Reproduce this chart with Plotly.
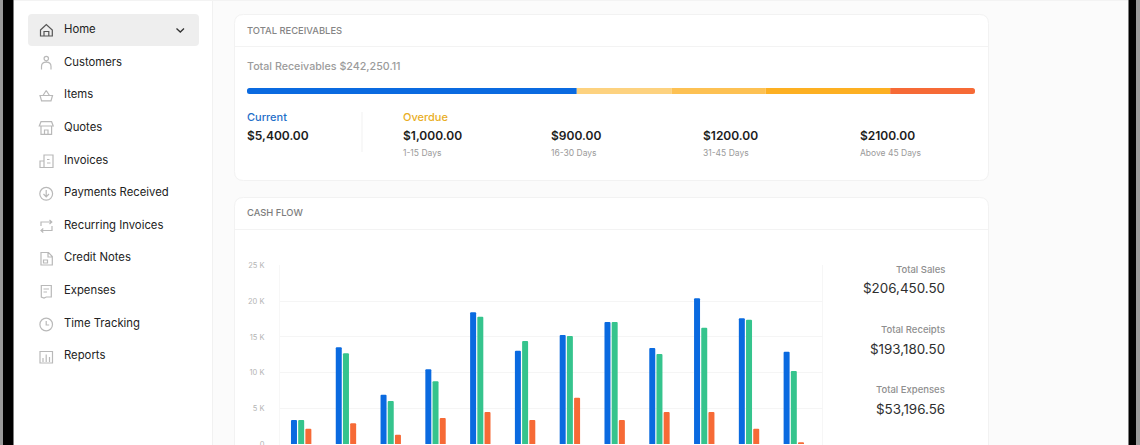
import re

import plotly.graph_objects as go

W, H = 1140, 445
FONT = "Inter"

# cash flow chart
groups = list(range(12))
sales = [3360, 13540, 6900, 10460, 18440, 13070, 15270, 17090, 13450, 20400, 17600, 12930]
receipts = [3360, 12700, 6020, 8780, 17830, 14430, 15130, 17090, 12600, 16290, 17410, 10220]
expenses = [2140, 2900, 1300, 3640, 4480, 3360, 6480, 3360, 4480, 4480, 2140, 240]
y_ticks = [0, 5000, 10000, 15000, 20000, 25000]
y_labels = ["0", "5 K", "10 K", "15 K", "20 K", "25 K"]

# receivables bar, share of the bar length in percent
segments = [45.3, 13.05, 12.9, 17.1, 11.65]
segment_colors = ["#0a6ae0", "#fdd27f", "#fdc153", "#fdb022", "#f66a36"]

menu = ["Home", "Customers", "Items", "Quotes", "Invoices", "Payments Received",
        "Recurring Invoices", "Credit Notes", "Expenses", "Time Tracking", "Reports"]
menu_y = [29, 62, 94, 127, 160, 192, 225, 257, 290, 323, 355]

amounts = ["$5,400.00", "$1,000.00", "$900.00", "$1200.00", "$2100.00"]
amount_x = [247, 403, 551, 703, 859.5]
ages = ["1-15 Days", "16-30 Days", "31-45 Days", "Above 45 Days"]

totals = [("Total Sales", 269.5, "$206,450.50", 287.5),
          ("Total Receipts", 329.5, "$193,180.50", 349),
          ("Total Expenses", 389, "$53,196.56", 408.5)]


def xp(x):
    return x / W


def yp(y):
    return 1 - y / H


def to_paper(d):
    # svg path in screen pixels -> paper coordinates
    out = []
    is_x = True
    for tok in re.findall(r"[MLCQZ]|-?\d+\.?\d*", d):
        if tok in "MLCQZ":
            out.append(tok)
            is_x = True
        else:
            out.append(f"{xp(float(tok)):.5f}" if is_x else f"{yp(float(tok)):.5f}")
            is_x = not is_x
    return " ".join(out)


def rrect(x0, y0, x1, y1, r):
    return (f"M {x0 + r} {y0} L {x1 - r} {y0} Q {x1} {y0} {x1} {y0 + r} L {x1} {y1 - r} "
            f"Q {x1} {y1} {x1 - r} {y1} L {x0 + r} {y1} Q {x0} {y1} {x0} {y1 - r} "
            f"L {x0} {y0 + r} Q {x0} {y0} {x0 + r} {y0} Z")


def circle(cx, cy, r):
    k = r * 0.5523
    return (f"M {cx - r} {cy} C {cx - r} {cy - k} {cx - k} {cy - r} {cx} {cy - r} "
            f"C {cx + k} {cy - r} {cx + r} {cy - k} {cx + r} {cy} "
            f"C {cx + r} {cy + k} {cx + k} {cy + r} {cx} {cy + r} "
            f"C {cx - k} {cy + r} {cx - r} {cy + k} {cx - r} {cy} Z")


shapes = []


def add_path(d, fill="rgba(0,0,0,0)", line=None, width=1.0, layer="below"):
    shapes.append(dict(type="path", path=to_paper(d), xref="paper", yref="paper", layer=layer,
                       fillcolor=fill, line=dict(color=line or "rgba(0,0,0,0)", width=width if line else 0)))


def add_rect(x0, y0, x1, y1, fill):
    add_path(f"M {x0} {y0} L {x1} {y0} L {x1} {y1} L {x0} {y1} Z", fill=fill)


texts = []


def add_text(x, y, text, size, color, anchor="left", weight=400):
    # annotations sit 2px inside their anchor, xshift takes that back
    texts.append(dict(x=xp(x), y=yp(y), xref="paper", yref="paper", text=text, showarrow=False,
                      xanchor=anchor, yanchor="middle", align=anchor, xshift=-2 if anchor == "left" else 2,
                      font=dict(family=FONT, size=size, color=color, weight=weight)))


# page frame
add_rect(0, 0, W, H, "#fbfbfb")
add_rect(14, 1, 212, H, "#ffffff")
add_rect(212, 0, 213, H, "#f1f1f1")
add_rect(14, 0, 1128, 1, "#f3f3f3")
add_rect(0, 0, 3, H, "#9a9a9a")
add_rect(3, 0, 13.5, H, "#000000")
add_rect(1128.5, 0, 1136, H, "#000000")
add_rect(1136, 0, W, H, "#9a9a9a")

# cards
add_path(rrect(234.5, 14.5, 988.5, 180.5, 9), fill="#ffffff", line="#f2f2f2")
add_rect(235, 46, 988, 47, "#f3f3f3")
add_path(rrect(234.5, 197.5, 988.5, 470, 9), fill="#ffffff", line="#f2f2f2")
add_rect(235, 229, 988, 230, "#f3f3f3")
add_rect(361.5, 112, 362.5, 152, "#f1f1f1")

# sidebar
add_path(rrect(28, 14, 199, 46, 4), fill="#eeeeee")
add_path("M 176.5 28.5 L 180.3 32 L 184 28.5", line="#333333", width=1.3)

ICON = "#b9b9b9"
icons = [
    "M 40.5 30 L 46.3 24.5 L 52.3 30 L 52.3 36 L 40.5 36 Z M 44 36 L 44 31.5 L 48.8 31.5 L 48.8 36",
    circle(46.3, 58.6, 2.2) + " M 41.5 69.5 L 41.5 66.5 Q 41.5 62.2 46.3 62.2 Q 51 62.2 51 66.5 L 51 69.5",
    "M 40 95.5 L 52.5 95.5 L 51 100.8 L 41.6 100.8 Z M 43 95.5 L 46.2 90.5 M 49.5 95.5 L 46.2 90.5",
    "M 41 121.7 L 51.6 121.7 L 53.2 126 L 39.3 126 Z M 41 126.5 L 41 134.3 L 51.6 134.3 L 51.6 126.5 "
    "M 44.5 134.3 L 44.5 130 L 48 130 L 48 134.3",
    "M 44 155 L 53 155 L 53 167.5 L 40 167.5 L 40 161 L 44 161 L 44 167.5 Z M 47 159.5 L 49.5 159.5 "
    "M 47 163 L 50.5 163",
    circle(46.2, 193.8, 6.4) + " M 46.2 190 L 46.2 196.5 M 43.5 194 L 46.2 196.8 L 49 194",
    "M 41 226 L 41 222 L 51.5 222 M 49.5 220 L 51.8 222 L 49.5 224 M 52 226 L 52 230.5 L 41 230.5 "
    "M 43.3 228.5 L 41 230.5 L 43.3 232.5",
    "M 41 252.5 L 48.5 252.5 L 52.3 256.5 L 52.3 265 L 41 265 Z M 48 252.5 L 48 257 L 52.3 257 "
    "M 43.5 260 L 47.5 260 L 47.5 263 L 43.5 263 Z",
    "M 41.3 285.5 L 51.3 285.5 L 51.3 297 L 46.3 297 L 44 298 L 41.3 297 Z M 43.5 289 L 49 289 M 43.5 292 L 47 292",
    circle(46.2, 324.5, 6.3) + " M 46.2 321 L 46.2 325 L 49.2 325",
    "M 40 351.5 L 52.5 351.5 L 52.5 363 L 40 363 Z M 43 362 L 43 358 M 46.2 362 L 46.2 354.5 M 49.5 362 L 49.5 357",
]
for i, d in enumerate(icons):
    add_path(d, line="#555555" if i == 0 else ICON, width=1.2)

for label, y in zip(menu, menu_y):
    add_text(64, y, label, 11.3, "#222222")

# receivables card
add_text(247, 30.5, "TOTAL RECEIVABLES", 9.4, "#858585", weight=500)
add_text(247, 66, "Total Receivables $242,250.11", 10.7, "#9b9b9b", weight=500)
add_text(247, 116.5, "Current", 11, "#1f6fc9", weight=500)
add_text(403, 116.5, "Overdue", 11, "#e9ae25", weight=500)
for label, x in zip(amounts, amount_x):
    add_text(x, 135, label, 12, "#1c1c1c", weight=600)
for label, x in zip(ages, amount_x[1:]):
    add_text(x, 153, label, 8.5, "#9a9a9a")

# cash flow card
add_text(247, 212, "CASH FLOW", 9.4, "#7d7d7d", weight=500)
for name, name_y, value, value_y in totals:
    add_text(945, name_y, name, 9.5, "#8f8f8f", anchor="right", weight=500)
    add_text(945, value_y, value, 13.4, "#2e2e2e", anchor="right")

# rounded ends of the receivables bar
for d in ["M 247 88 L 249.5 88 Q 247 88 247 90.5 Z", "M 247 94 L 249.5 94 Q 247 94 247 91.5 Z",
          "M 975 88 L 972.5 88 Q 975 88 975 90.5 Z", "M 975 94 L 972.5 94 Q 975 94 975 91.5 Z"]:
    add_path(d, fill="#ffffff", layer="above")

# frame of the plot area
add_rect(279, 265, 280, H, "#f7f7f7")
add_rect(822, 265, 823, H, "#f6f6f6")

fig = go.Figure()

for share, color in zip(segments, segment_colors):
    fig.add_trace(go.Bar(x=[share], y=[0], orientation="h", marker=dict(color=color, line_width=0),
                         xaxis="x2", yaxis="y2", width=1, showlegend=False, hoverinfo="skip"))

for name, values, color in [("Total Sales", sales, "#0a6ae0"),
                            ("Total Receipts", receipts, "#35c48d"),
                            ("Total Expenses", expenses, "#f66a36")]:
    fig.add_trace(go.Bar(x=groups, y=values, name=name, showlegend=False,
                         marker=dict(color=color, line_width=0, cornerradius=1.5)))

fig.update_layout(
    width=W, height=H, margin=dict(l=0, r=0, t=0, b=0), autosize=False,
    paper_bgcolor="#fbfbfb", plot_bgcolor="rgba(0,0,0,0)", showlegend=False,
    barmode="group", bargap=0.518, bargroupgap=0.167,
    shapes=shapes, annotations=texts,
    xaxis=dict(domain=[xp(279.5), xp(822.7)], range=[-0.484, 11.645], showgrid=False, zeroline=False,
               showticklabels=False, ticks="", showline=False, fixedrange=True, automargin=False),
    yaxis=dict(domain=[yp(444), yp(265.5)], range=[0, 25000], tickvals=y_ticks, ticktext=y_labels,
               gridcolor="#f5f5f5", gridwidth=1, zeroline=False, ticks="", showline=False, automargin=False,
               ticklabeloverflow="allow", ticklabelstandoff=14,
               tickfont=dict(family=FONT, size=7.5, color="#b4b4b4"), fixedrange=True),
    xaxis2=dict(domain=[xp(247), xp(975)], range=[0, 100], visible=False, fixedrange=True, anchor="y2",
                automargin=False),
    yaxis2=dict(domain=[yp(94), yp(88)], range=[-0.5, 0.5], visible=False, fixedrange=True, anchor="x2",
                automargin=False),
)
# laid end to end only for the receivables bar: the cash flow bars stay grouped
for tr in fig.data[:5]:
    tr.offsetgroup = "stack"
base = 0
for tr, share in zip(fig.data[:5], segments):
    tr.base = [base]
    base += share

# page has a default body margin, take it off so the figure fills the window
fig.write_html("out.html", config=dict(displayModeBar=False),
               post_script="document.body.style.margin='0';document.body.style.overflow='hidden';")
